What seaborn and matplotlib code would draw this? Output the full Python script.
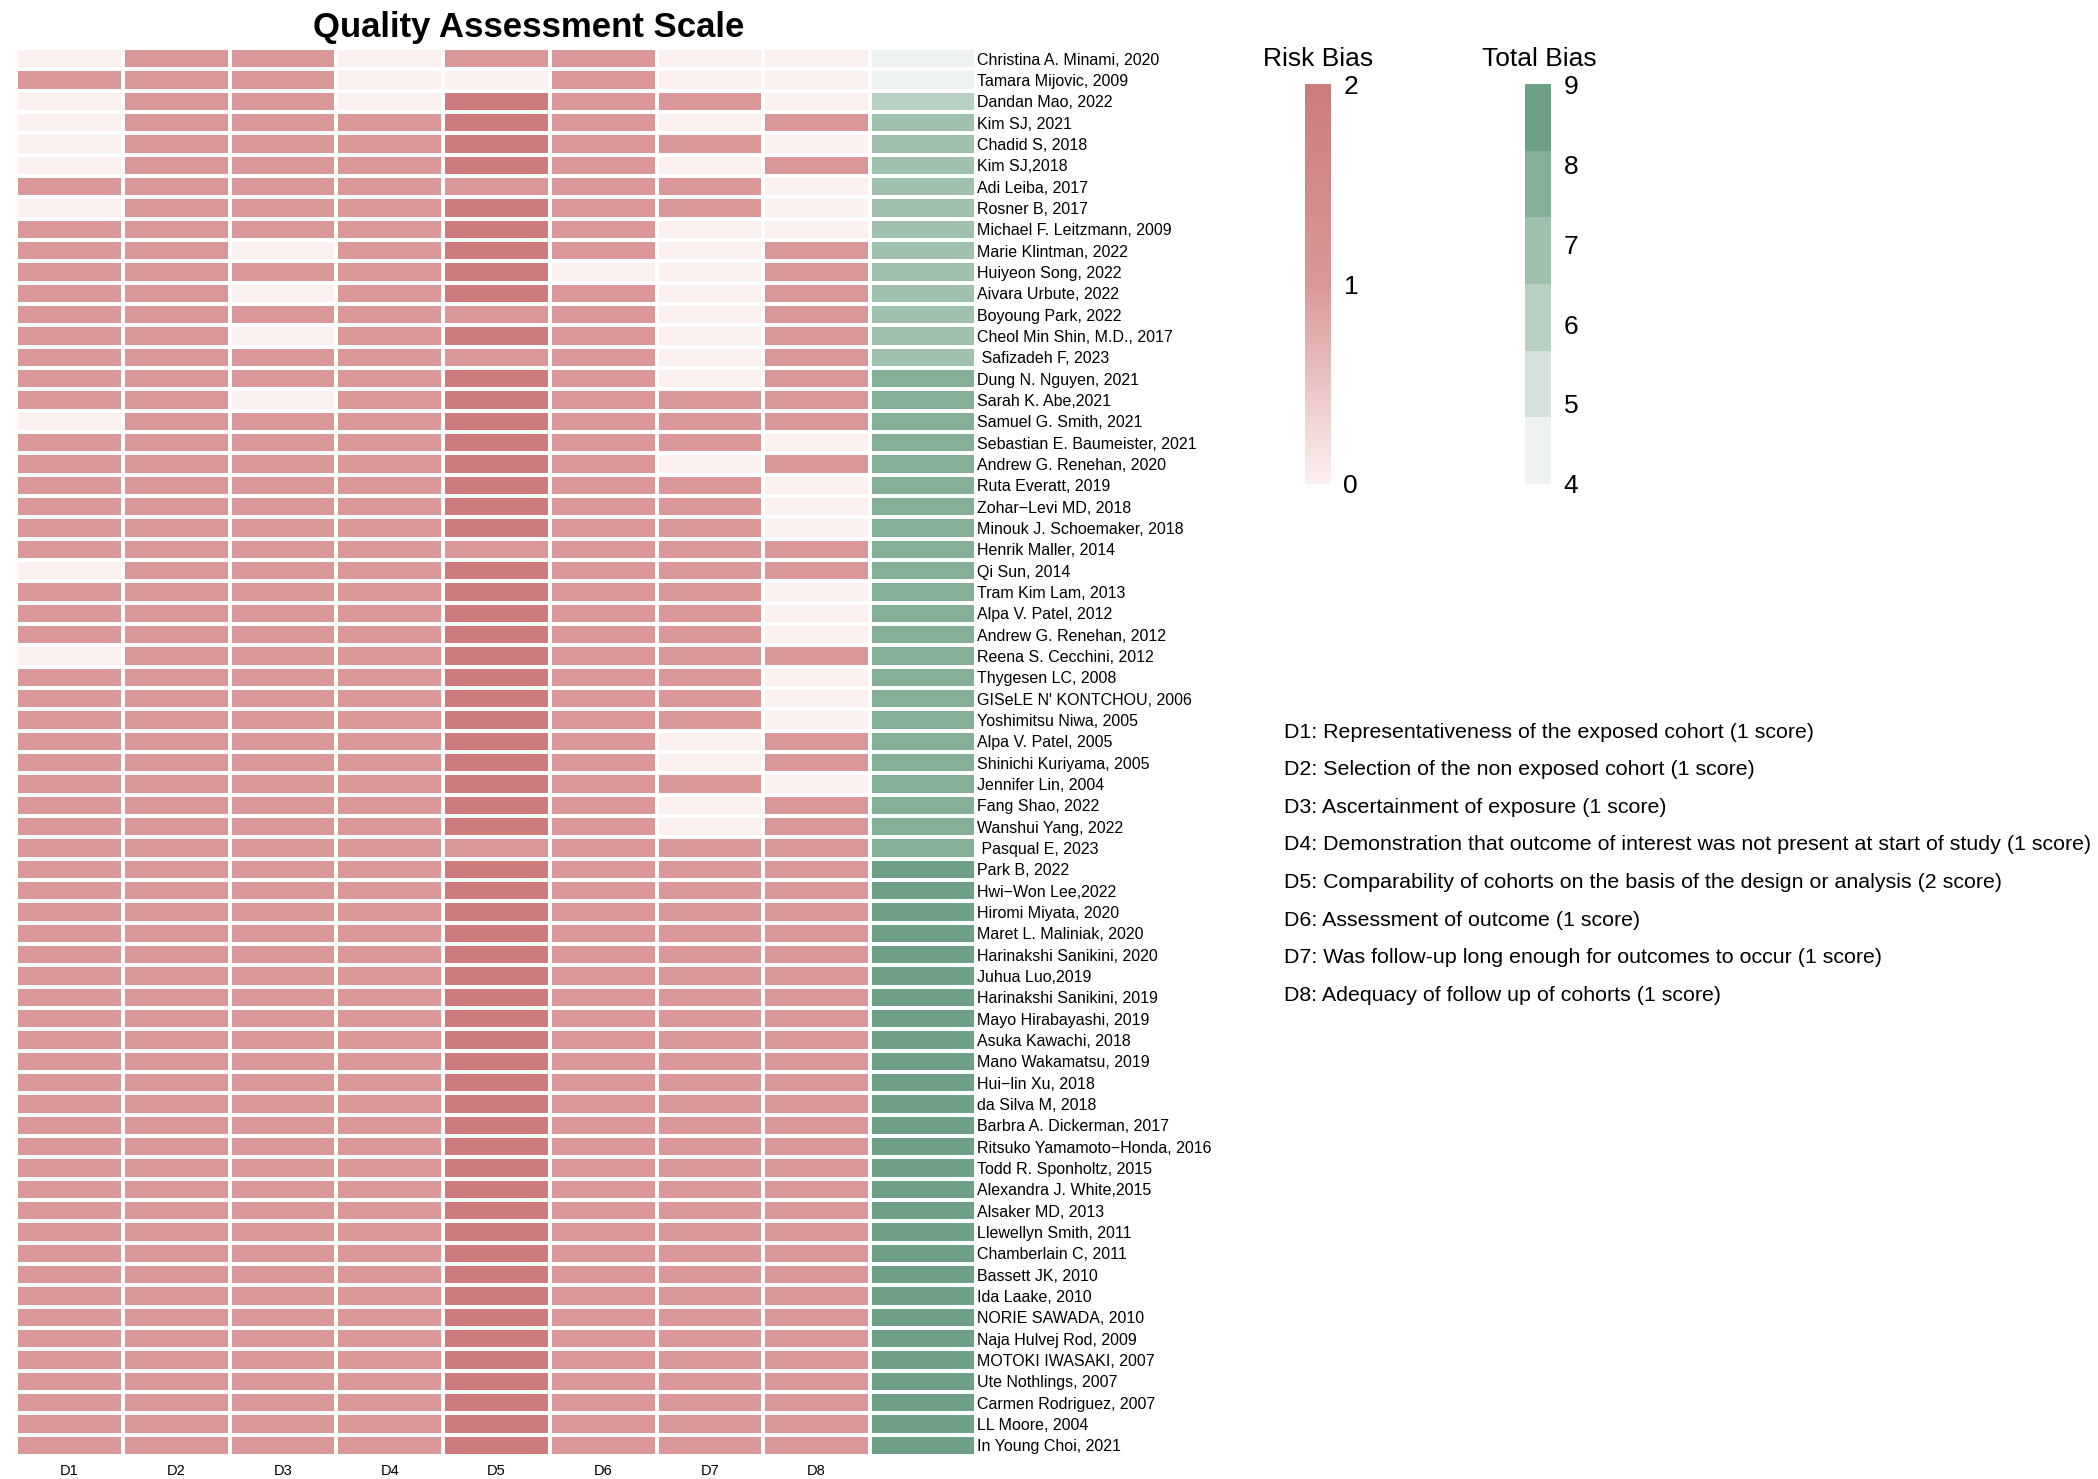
import numpy as np
import pandas as pd
import matplotlib
matplotlib.use("Agg")
import matplotlib.pyplot as plt
import seaborn as sns
from matplotlib.colors import LinearSegmentedColormap, ListedColormap, Normalize
from matplotlib.cm import ScalarMappable

# ---------------- data ----------------
studies = [
    "Christina A. Minami, 2020", "Tamara Mijovic, 2009", "Dandan Mao, 2022", "Kim SJ, 2021",
    "Chadid S, 2018", "Kim SJ,2018", "Adi Leiba, 2017", "Rosner B, 2017",
    "Michael F. Leitzmann, 2009", "Marie Klintman, 2022", "Huiyeon Song, 2022",
    "Aivara Urbute, 2022", "Boyoung Park, 2022", "Cheol Min Shin, M.D., 2017",
    " Safizadeh F, 2023", "Dung N. Nguyen, 2021", "Sarah K. Abe,2021", "Samuel G. Smith, 2021",
    "Sebastian E. Baumeister, 2021", "Andrew G. Renehan, 2020", "Ruta Everatt, 2019",
    "Zohar\u2212Levi MD, 2018", "Minouk J. Schoemaker, 2018", "Henrik Maller, 2014",
    "Qi Sun, 2014", "Tram Kim Lam, 2013", "Alpa V. Patel, 2012", "Andrew G. Renehan, 2012",
    "Reena S. Cecchini, 2012", "Thygesen LC, 2008", "GISeLE N' KONTCHOU, 2006",
    "Yoshimitsu Niwa, 2005", "Alpa V. Patel, 2005", "Shinichi Kuriyama, 2005",
    "Jennifer Lin, 2004", "Fang Shao, 2022", "Wanshui Yang, 2022", " Pasqual E, 2023",
    "Park B, 2022", "Hwi\u2212Won Lee,2022", "Hiromi Miyata, 2020", "Maret L. Maliniak, 2020",
    "Harinakshi Sanikini, 2020", "Juhua Luo,2019", "Harinakshi Sanikini, 2019",
    "Mayo Hirabayashi, 2019", "Asuka Kawachi, 2018", "Mano Wakamatsu, 2019",
    "Hui\u2212lin Xu, 2018", "da Silva M, 2018", "Barbra A. Dickerman, 2017",
    "Ritsuko Yamamoto\u2212Honda, 2016", "Todd R. Sponholtz, 2015", "Alexandra J. White,2015",
    "Alsaker MD, 2013", "Llewellyn Smith, 2011", "Chamberlain C, 2011", "Bassett JK, 2010",
    "Ida Laake, 2010", "NORIE SAWADA, 2010", "Naja Hulvej Rod, 2009", "MOTOKI IWASAKI, 2007",
    "Ute Nothlings, 2007", "Carmen Rodriguez, 2007", "LL Moore, 2004", "In Young Choi, 2021",
]

domains = ["D1", "D2", "D3", "D4", "D5", "D6", "D7", "D8"]

D1 = [0, 1, 0, 0, 0, 0, 1, 0, 1, 1, 1,
      1, 1, 1, 1, 1, 1, 0, 1, 1, 1, 1,
      1, 1, 0, 1, 1, 1, 0, 1, 1, 1, 1,
      1, 1, 1, 1, 1, 1, 1, 1, 1, 1, 1,
      1, 1, 1, 1, 1, 1, 1, 1, 1, 1, 1,
      1, 1, 1, 1, 1, 1, 1, 1, 1, 1, 1]
D2 = [1, 1, 1, 1, 1, 1, 1, 1, 1, 1, 1,
      1, 1, 1, 1, 1, 1, 1, 1, 1, 1, 1,
      1, 1, 1, 1, 1, 1, 1, 1, 1, 1, 1,
      1, 1, 1, 1, 1, 1, 1, 1, 1, 1, 1,
      1, 1, 1, 1, 1, 1, 1, 1, 1, 1, 1,
      1, 1, 1, 1, 1, 1, 1, 1, 1, 1, 1]
D3 = [1, 1, 1, 1, 1, 1, 1, 1, 1, 0, 1,
      0, 1, 0, 1, 1, 0, 1, 1, 1, 1, 1,
      1, 1, 1, 1, 1, 1, 1, 1, 1, 1, 1,
      1, 1, 1, 1, 1, 1, 1, 1, 1, 1, 1,
      1, 1, 1, 1, 1, 1, 1, 1, 1, 1, 1,
      1, 1, 1, 1, 1, 1, 1, 1, 1, 1, 1]
D4 = [0, 0, 0, 1, 1, 1, 1, 1, 1, 1, 1,
      1, 1, 1, 1, 1, 1, 1, 1, 1, 1, 1,
      1, 1, 1, 1, 1, 1, 1, 1, 1, 1, 1,
      1, 1, 1, 1, 1, 1, 1, 1, 1, 1, 1,
      1, 1, 1, 1, 1, 1, 1, 1, 1, 1, 1,
      1, 1, 1, 1, 1, 1, 1, 1, 1, 1, 1]
D5 = [1, 0, 2, 2, 2, 2, 1, 2, 2, 2, 2,
      2, 1, 2, 1, 2, 2, 2, 2, 2, 2, 2,
      2, 1, 2, 2, 2, 2, 2, 2, 2, 2, 2,
      2, 2, 2, 2, 1, 2, 2, 2, 2, 2, 2,
      2, 2, 2, 2, 2, 2, 2, 2, 2, 2, 2,
      2, 2, 2, 2, 2, 2, 2, 2, 2, 2, 2]
D6 = [1, 1, 1, 1, 1, 1, 1, 1, 1, 1, 0,
      1, 1, 1, 1, 1, 1, 1, 1, 1, 1, 1,
      1, 1, 1, 1, 1, 1, 1, 1, 1, 1, 1,
      1, 1, 1, 1, 1, 1, 1, 1, 1, 1, 1,
      1, 1, 1, 1, 1, 1, 1, 1, 1, 1, 1,
      1, 1, 1, 1, 1, 1, 1, 1, 1, 1, 1]
D7 = [0, 0, 1, 0, 1, 0, 1, 1, 0, 0, 0,
      0, 0, 0, 0, 0, 1, 1, 1, 0, 1, 1,
      1, 1, 1, 1, 1, 1, 1, 1, 1, 1, 0,
      0, 1, 0, 0, 1, 1, 1, 1, 1, 1, 1,
      1, 1, 1, 1, 1, 1, 1, 1, 1, 1, 1,
      1, 1, 1, 1, 1, 1, 1, 1, 1, 1, 1]
D8 = [0, 0, 0, 1, 0, 1, 0, 0, 0, 1, 1,
      1, 1, 1, 1, 1, 1, 1, 0, 1, 0, 0,
      0, 1, 1, 0, 0, 0, 1, 0, 0, 0, 1,
      1, 0, 1, 1, 1, 1, 1, 1, 1, 1, 1,
      1, 1, 1, 1, 1, 1, 1, 1, 1, 1, 1,
      1, 1, 1, 1, 1, 1, 1, 1, 1, 1, 1]
total_bias = [4, 4, 6, 7, 7, 7, 7, 7, 7, 7, 7,
              7, 7, 7, 7, 8, 8, 8, 8, 8, 8, 8,
              8, 8, 8, 8, 8, 8, 8, 8, 8, 8, 8,
              8, 8, 8, 8, 8, 9, 9, 9, 9, 9, 9,
              9, 9, 9, 9, 9, 9, 9, 9, 9, 9, 9,
              9, 9, 9, 9, 9, 9, 9, 9, 9, 9, 9]

descriptions = [
    "D1: Representativeness of the exposed cohort (1 score)",
    "D2: Selection of the non exposed cohort (1 score)",
    "D3: Ascertainment of exposure (1 score)",
    "D4: Demonstration that outcome of interest was not present at start of study (1 score)",
    "D5: Comparability of cohorts on the basis of the design or analysis (2 score)",
    "D6: Assessment of outcome (1 score)",
    "D7: Was follow-up long enough for outcomes to occur (1 score)",
    "D8: Adequacy of follow up of cohorts (1 score)",
]

risk_ticks = [0, 1, 2]
total_ticks = [4, 5, 6, 7, 8, 9]

# ---------------- style ----------------
sns.set_style("white")
plt.rcParams["font.family"] = ["Liberation Sans", "DejaVu Sans"]
plt.rcParams["text.color"] = "black"
plt.rcParams["xtick.color"] = "black"
plt.rcParams["ytick.color"] = "black"
plt.rcParams["xtick.labelcolor"] = "black"
plt.rcParams["ytick.labelcolor"] = "black"

risk_cmap = LinearSegmentedColormap.from_list(
    "risk", ["#fcf0f0", "#d99797", "#cc7c7c"])
green_colors = ["#eef2f0", "#d3e1da", "#b7d0c2", "#9ec0ac", "#84b098", "#6ea085"]
green_cmap = ListedColormap(green_colors)

W, H = 2098, 1479
fig = plt.figure(figsize=(W / 100, H / 100), dpi=100)


def px_axes(x0, y0, x1, y1):
    return fig.add_axes([x0 / W, 1 - y1 / H, (x1 - x0) / W, (y1 - y0) / H])


df_main = pd.DataFrame({"D1": D1, "D2": D2, "D3": D3, "D4": D4,
                        "D5": D5, "D6": D6, "D7": D7, "D8": D8}, index=studies)[domains]
df_total = pd.DataFrame({"Total": total_bias}, index=studies)

ax1 = px_axes(16, 48, 870, 1456)
sns.heatmap(df_main, ax=ax1, cmap=risk_cmap, vmin=0, vmax=2, cbar=False,
            linewidths=1.45, linecolor="white", xticklabels=domains, yticklabels=False)
ax1.tick_params(axis="x", length=0, labelsize=10.5, pad=6, colors="black")
for t in ax1.get_xticklabels():
    t.set_rotation(0)
ax1.set_xlabel("")
ax1.set_ylabel("")

ax2 = px_axes(870, 48, 976, 1456)
sns.heatmap(df_total, ax=ax2, cmap=green_cmap, vmin=3.5, vmax=9.5, cbar=False,
            linewidths=1.45, linecolor="white", xticklabels=False, yticklabels=studies)
ax2.yaxis.tick_right()
ax2.tick_params(axis="y", length=0, labelsize=11.5, pad=0.5, colors="black")
for t in ax2.get_yticklabels():
    t.set_rotation(0)
    t.set_ha("left")
ax2.set_xlabel("")
ax2.set_ylabel("")

# title
fig.text(529 / W, 1 - 27 / H, "Quality Assessment Scale", fontsize=25,
         fontweight="bold", ha="center", va="center", color="black")

# risk bias legend
cax1 = px_axes(1305, 84, 1331, 484)
cb1 = fig.colorbar(ScalarMappable(norm=Normalize(0, 2), cmap=risk_cmap), cax=cax1)
cb1.outline.set_visible(False)
cb1.set_ticks(risk_ticks)
cb1.ax.tick_params(length=0, labelsize=19, pad=9, colors="black")
fig.text(1318 / W, 1 - 59 / H, "Risk Bias", fontsize=19, ha="center", va="center",
         color="black")

# total bias legend
cax2 = px_axes(1525, 84, 1551, 484)
cb2 = fig.colorbar(ScalarMappable(norm=Normalize(4, 9), cmap=green_cmap), cax=cax2)
cb2.outline.set_visible(False)
cb2.set_ticks(total_ticks)
cb2.ax.tick_params(length=0, labelsize=19, pad=9, colors="black")
fig.text(1539 / W, 1 - 59 / H, "Total Bias", fontsize=19, ha="center", va="center",
         color="black")

# descriptions
y0 = 732
for i, d in enumerate(descriptions):
    fig.text(1284 / W, 1 - (y0 + i * 37.6) / H, d, fontsize=15.4, ha="left",
             va="center", color="black")

fig.savefig("out.png", dpi=100)
